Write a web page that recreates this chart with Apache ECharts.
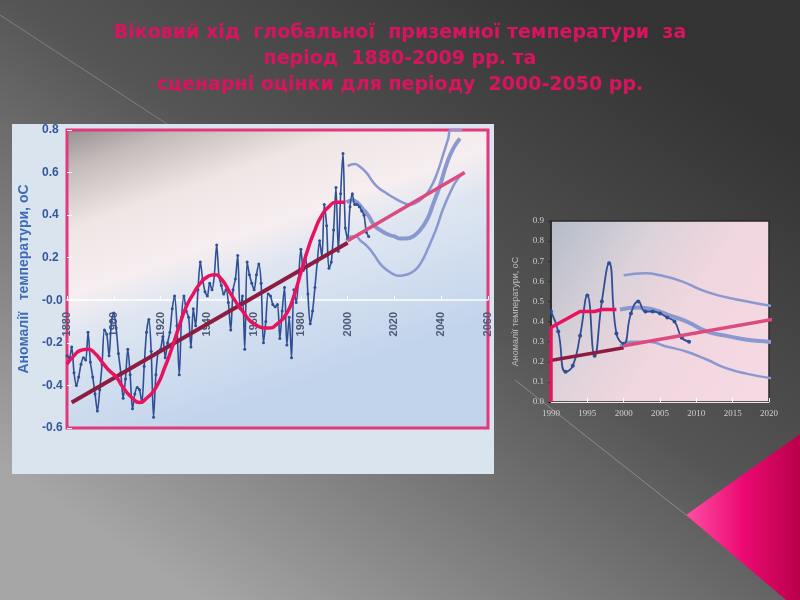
<!DOCTYPE html>
<html>
<head>
<meta charset="utf-8">
<script src="https://cdn.jsdelivr.net/npm/echarts@6/dist/echarts.min.js"></script>
<style>html,body{margin:0;padding:0;background:#3a3a3a;}#c{width:800px;height:600px;}</style>
</head>
<body>
<div id="c"></div>
<script>
// ---------- DATA ----------
const titleText = 'Віковий хід  глобальної  приземної температури  за\nперіод  1880-2009 рр. та\nсценарні оцінки для періоду  2000-2050 рр.';
const yAxisTitle = 'Аномалії   температури, оС';
const insetYAxisTitle = 'Аномалії температури, оС';

const firstYear = 1880;
// annual global surface temperature anomalies, 1880..2009 (°C)
const tempAnomaly = [
  -0.26,-0.27,-0.22,-0.34,-0.40,-0.36,-0.30,-0.27,-0.28,-0.15,
  -0.29,-0.36,-0.44,-0.52,-0.42,-0.30,-0.14,-0.16,-0.26,-0.10,
  -0.06,-0.13,-0.25,-0.34,-0.46,-0.37,-0.23,-0.35,-0.51,-0.44,
  -0.41,-0.42,-0.48,-0.31,-0.15,-0.09,-0.24,-0.55,-0.35,-0.24,
  -0.23,-0.17,-0.27,-0.20,-0.15,-0.04, 0.02,-0.12,-0.35,-0.08,
   0.02,-0.05,-0.08,-0.22,-0.04,-0.12, 0.05, 0.18, 0.10, 0.04,
   0.02, 0.08, 0.05, 0.12, 0.26, 0.11, 0.07, 0.03, 0.05,-0.01,
  -0.14, 0.05, 0.10, 0.21,-0.04, 0.02,-0.23, 0.18, 0.12, 0.08,
   0.05, 0.12, 0.17, 0.08,-0.20,-0.10, 0.03, 0.02,-0.02,-0.03,
  -0.02,-0.18,-0.05, 0.06,-0.21,-0.08,-0.27, 0.05,-0.01, 0.10,
   0.24, 0.14, 0.21, 0.03,-0.11,-0.05, 0.06, 0.18, 0.28, 0.20,
   0.45, 0.35, 0.15, 0.18, 0.33, 0.53, 0.23, 0.50, 0.69, 0.34,
   0.29, 0.44, 0.50, 0.45, 0.45, 0.44, 0.42, 0.40, 0.32, 0.30
];
// smoothed multi-decadal curve [year, °C]
const smoothCurve = [
  [1880,-0.30],[1883,-0.26],[1886,-0.235],[1889,-0.23],[1892,-0.25],[1895,-0.29],
  [1898,-0.33],[1901,-0.36],[1904,-0.41],[1908,-0.46],[1911,-0.48],[1914,-0.46],
  [1918,-0.41],[1922,-0.31],[1925,-0.22],[1928,-0.12],[1931,-0.03],[1934,0.03],
  [1937,0.08],[1940,0.11],[1943,0.12],[1946,0.10],[1950,0.03],[1955,-0.05],
  [1960,-0.11],[1966,-0.13],[1970,-0.11],[1974,-0.06],[1977,0.02],[1980,0.13],
  [1983,0.24],[1986,0.33],[1989,0.40],[1992,0.44],[1995,0.46],[1999,0.46]
];
// linear trend (observed) and extrapolated trend
const trendPast = [[1882,-0.48],[2000,0.27]];
const trendFuture = [[2000,0.28],[2050,0.60]];
// scenario estimates 2000-2050
const scenarioHigh = [
  [2000,0.63],[2003,0.64],[2005,0.63],[2008,0.60],[2010.5,0.56],[2013,0.53],
  [2017,0.50],[2020,0.48],[2023.5,0.46],[2026.5,0.45],[2029.5,0.46],[2032,0.48],
  [2035,0.52],[2038,0.59],[2041,0.69],[2043,0.76],[2044.2,0.80],[2049,0.80]
];
const scenarioMid = [
  [1999.5,0.46],[2002,0.47],[2004,0.46],[2006.4,0.43],[2008.7,0.40],[2011.5,0.35],
  [2014,0.33],[2017,0.31],[2020,0.30],[2022.5,0.29],[2025,0.29],[2028,0.30],
  [2031,0.33],[2034,0.38],[2036.5,0.45],[2039.5,0.54],[2042.3,0.64],[2045,0.71],[2048,0.76]
];
const scenarioLow = [
  [1999.5,0.28],[2001,0.30],[2003.5,0.30],[2005.5,0.28],[2008.7,0.25],[2011.5,0.21],
  [2014,0.17],[2017,0.14],[2020,0.12],[2022,0.115],[2025,0.12],[2028,0.135],
  [2031,0.17],[2035,0.26],[2038,0.34],[2040.8,0.43],[2044,0.51],[2047,0.57],[2050,0.60]
];
// inset: smoothed curve as plotted on the 1990-2020 chart
const insetSmooth = [
  [1990,0.0],[1990,0.37],[1991,0.39],[1992,0.41],[1993,0.43],[1994,0.45],
  [1995,0.45],[1996,0.45],[1997,0.46],[1998,0.46],[1999,0.46]
];
const insetFrom = 1990;

// main axis ticks
const mainYLabels = {'0.8':'0.8','0.6':'0.6','0.4':'0.4','0.2':'0.2','0':'-0.0','-0.2':'-0.2','-0.4':'-0.4','-0.6':'-0.6'};

// ---------- BUILD ----------
const annual = tempAnomaly.map((v, i) => [firstYear + i, v]);
const insetAnnual = annual.filter(d => d[0] >= insetFrom);

const G = echarts.graphic;
const chart = echarts.init(document.getElementById('c'), null, {renderer: 'canvas'});

const blue = '#2f4f95';
const pink = '#e8125e';
const maroon = '#8c1c40';
const futurePink = '#db4b7f';
const lav = '#8a98d0';

function scenarioSeries(data, w, xi) {
  return {type:'line', xAxisIndex:xi, yAxisIndex:xi, data, smooth:0.5, showSymbol:false,
    lineStyle:{color:lav, width:w}, z:1, silent:true};
}

const mainTop = 130, mainHeight = 298, mainMin = -0.6, mainMax = 0.8;

const option = {
  animation:false,
  backgroundColor: new G.LinearGradient(0.75,0,0.25,1,[
    {offset:0,color:'#333333'},{offset:0.45,color:'#555555'},{offset:1,color:'#a6a6a6'}]),
  title:{
    text:titleText, left:'center', top:15,
    textStyle:{color:'#d9145f', fontFamily:'DejaVu Sans', fontWeight:'bold', fontSize:19, lineHeight:26}
  },
  graphic:[
    {type:'line', z:-5, shape:{x1:0,y1:15,x2:170,y2:126}, style:{stroke:'rgba(200,200,200,0.35)', lineWidth:1}},
    {type:'line', z:-5, shape:{x1:515,y1:380,x2:686,y2:515}, style:{stroke:'rgba(220,220,220,0.35)', lineWidth:1}},
    {type:'polygon', z:-5, shape:{points:[[686,515],[800,434],[800,600],[786,600]]},
      style:{fill:new G.LinearGradient(0,0,1,0,[{offset:0,color:'#ff4fa3'},{offset:0.5,color:'#ec0a72'},{offset:1,color:'#b8004a'}])}},
    {type:'rect', z:-4, shape:{x:12,y:124,width:482,height:350}, style:{fill:'#d9e4ef'}}
  ],
  grid:[
    {left:67, top:mainTop, width:421, height:mainHeight, show:true, borderColor:'#e2397a', borderWidth:3,
      backgroundColor:new G.LinearGradient(0,0,0.25,1,[
        {offset:0,color:'#958f8f'},{offset:0.12,color:'#c3baba'},{offset:0.3,color:'#efe5e5'},
        {offset:0.5,color:'#f6eef0'},{offset:0.62,color:'#dfe6f1'},{offset:1,color:'#c2d4ec'}])},
    {left:551, top:221, width:218, height:181, show:true, borderColor:'#2a2a2a', borderWidth:1.5,
      backgroundColor:new G.LinearGradient(0,0,1,0.8,[
        {offset:0,color:'#b3bcc8'},{offset:0.35,color:'#dcd2da'},{offset:0.6,color:'#f0d6de'},{offset:1,color:'#f5d9e3'}])}
  ],
  xAxis:[
    {gridIndex:0, type:'value', min:1880, max:2060, interval:20,
      // place the axis on the zero line
      offset:-Math.round(mainHeight * (0 - mainMin) / (mainMax - mainMin)),
      axisLine:{onZero:false, lineStyle:{color:'#ffffff', width:1.5}},
      axisTick:{inside:true, length:4, lineStyle:{color:'#ffffff'}},
      splitLine:{show:false},
      axisLabel:{rotate:90, margin:12, color:'#4e5a76', fontFamily:'Liberation Sans', fontWeight:'bold', fontSize:11,
        formatter:v=>String(v)}},
    {gridIndex:1, type:'value', min:1990, max:2020, interval:5,
      axisLine:{onZero:false, lineStyle:{color:'#e8e8e8', width:1}},
      axisTick:{inside:true, length:4, lineStyle:{color:'#ffffff'}},
      splitLine:{show:false},
      axisLabel:{margin:7, color:'#cfcfcf', fontFamily:'Liberation Serif', fontSize:9, formatter:v=>String(v)}}
  ],
  yAxis:[
    {gridIndex:0, type:'value', min:mainMin, max:mainMax, interval:0.2,
      name:yAxisTitle, nameLocation:'middle', nameGap:36, nameRotate:90,
      nameTextStyle:{color:'#3e6cb6', fontFamily:'Liberation Sans', fontWeight:'bold', fontSize:14},
      axisLine:{show:false},
      axisTick:{inside:true, length:5, lineStyle:{color:'#ffffff'}},
      splitLine:{show:false},
      axisLabel:{align:'left', margin:25, color:'#35579a', fontFamily:'Liberation Sans', fontWeight:'bold', fontSize:12,
        formatter:v=>{const k=String(Math.round(v*10)/10); return mainYLabels[k] !== undefined ? mainYLabels[k] : k;}}},
    {gridIndex:1, type:'value', min:0, max:0.9, interval:0.1,
      name:insetYAxisTitle, nameLocation:'middle', nameGap:31, nameRotate:90,
      nameTextStyle:{color:'#bdbdbd', fontFamily:'Liberation Sans', fontSize:9},
      axisLine:{show:true, lineStyle:{color:'#2a2a2a', width:1.5}},
      axisTick:{show:true, length:3, lineStyle:{color:'#2a2a2a'}},
      splitLine:{show:false},
      axisLabel:{margin:7, color:'#cfcfcf', fontFamily:'Liberation Serif', fontSize:9,
        formatter:v=>(Math.round(v*10)/10).toFixed(1)}}
  ],
  series:[
    // main chart
    scenarioSeries(scenarioHigh, 2.5, 0),
    scenarioSeries(scenarioMid, 4, 0),
    scenarioSeries(scenarioLow, 2.5, 0),
    {type:'line', xAxisIndex:0, yAxisIndex:0, data:annual, smooth:0.3, symbol:'circle', symbolSize:3,
      itemStyle:{color:blue}, lineStyle:{color:blue, width:1.6}, z:2},
    {type:'line', xAxisIndex:0, yAxisIndex:0, data:trendPast, showSymbol:false, lineStyle:{color:maroon, width:4}, z:3},
    {type:'line', xAxisIndex:0, yAxisIndex:0, data:trendFuture, showSymbol:false, lineStyle:{color:futurePink, width:3.5}, z:3},
    {type:'line', xAxisIndex:0, yAxisIndex:0, data:smoothCurve, smooth:0.6, showSymbol:false, lineStyle:{color:pink, width:3.5}, z:4},
    // inset chart
    scenarioSeries(scenarioHigh, 2.5, 1),
    scenarioSeries(scenarioMid, 4, 1),
    scenarioSeries(scenarioLow, 2.5, 1),
    {type:'line', xAxisIndex:1, yAxisIndex:1, data:insetAnnual, smooth:0.5, symbol:'circle', symbolSize:4,
      itemStyle:{color:blue}, lineStyle:{color:blue, width:1.8}, z:2},
    {type:'line', xAxisIndex:1, yAxisIndex:1, data:trendPast, showSymbol:false, lineStyle:{color:maroon, width:3.5}, z:3},
    {type:'line', xAxisIndex:1, yAxisIndex:1, data:trendFuture, showSymbol:false, lineStyle:{color:futurePink, width:3.5}, z:3},
    {type:'line', xAxisIndex:1, yAxisIndex:1, data:insetSmooth, showSymbol:false, lineStyle:{color:pink, width:3.5}, z:4}
  ]
};
chart.setOption(option);
</script>
</body>
</html>
